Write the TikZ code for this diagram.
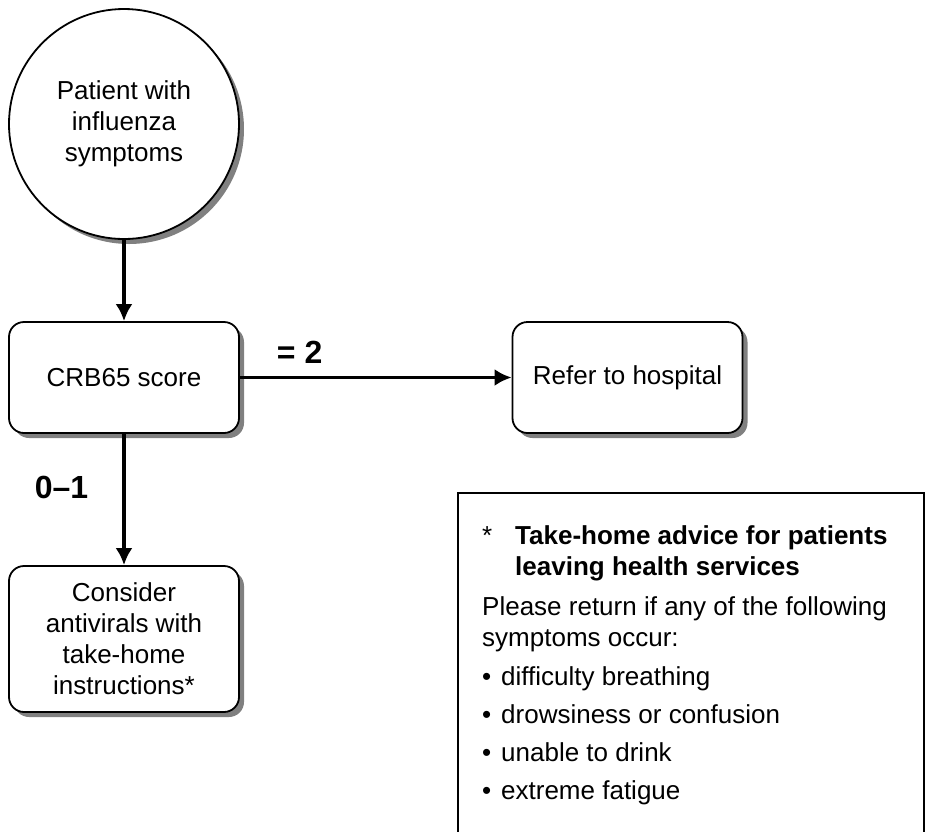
\documentclass[tikz,border=0pt]{standalone}
\usepackage{fontspec}
\setmainfont{Liberation Sans}
\usepackage{tikz}
\usetikzlibrary{arrows.meta,shapes,shadows,positioning}
\tikzset{>={Latex[length=17pt,width=17pt]}}
\tikzstyle{entry}  = [circle,draw,fill=white,line width=1.8pt,minimum size=230pt,inner sep=0pt,align=center,drop shadow={shadow xshift=5pt,shadow yshift=-5pt,fill=black!50,opacity=1}]
\tikzstyle{action} = [rectangle,rounded corners=15pt,draw,fill=white,line width=1.8pt,minimum width=230pt,inner sep=0pt,align=center,drop shadow={shadow xshift=5pt,shadow yshift=-5pt,fill=black!50,opacity=1}]
\tikzstyle{cond}   = [font=\fontsize{32}{38}\selectfont\bfseries,inner sep=0pt]
\tikzstyle{notes}  = [rectangle,draw,line width=1.8pt,anchor=north west,minimum width=466pt,minimum height=380pt,inner sep=0pt]

\begin{document}
\begin{tikzpicture}[x=1pt,y=-1pt,every node/.style={font=\fontsize{26}{31}\selectfont},every edge/.style={draw,->,line width=3.4pt}]
	\useasboundingbox (0,0) rectangle (930,831);
	
	\node[entry] (patient) at (124,124) {Patient with\\influenza\\symptoms};
	
	\node[action,minimum height=111pt] (crb)    at (124,377.5) {CRB65 score};
	\node[action,minimum height=111pt] (refer)  at (627.5,377.5) {Refer to hospital};
	\node[action,minimum height=146pt] (advise) at (124,639) {Consider\\antivirals with\\take-home\\instructions*};
	
	\node[notes] (frame) at (457,492) {};
	\node[anchor=north west,inner sep=0pt,align=left] (advice) at (482,525)
		{\makebox[33pt][l]{*}\textbf{Take-home advice for patients}\\
		 \hspace*{33pt}\textbf{leaving health services}\\[9pt]
		 Please return if any of the following\\
		 symptoms occur:\\[8pt]
		 \makebox[19pt][l]{\textbullet}difficulty breathing\\[7pt]
		 \makebox[19pt][l]{\textbullet}drowsiness or confusion\\[7pt]
		 \makebox[19pt][l]{\textbullet}unable to drink\\[7pt]
		 \makebox[19pt][l]{\textbullet}extreme fatigue};
	
	\path (patient) edge (crb);
	\path (crb) edge node[cond,pos=0.22,above=12pt]{= 2} (refer);
	\path (crb) edge node[cond,pos=0.41,left=34pt]{0–1} (advise);
\end{tikzpicture}
\end{document}
